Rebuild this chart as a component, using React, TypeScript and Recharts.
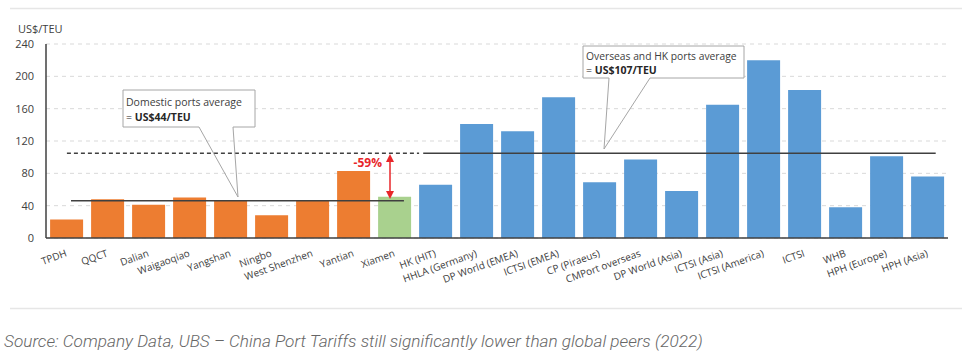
import React from "react";
import { BarChart, Bar, XAxis, YAxis, CartesianGrid, Cell, ReferenceLine } from "recharts";

const ports = ["TPDH","QQCT","Dalian","Waigaoqiao","Yangshan","Ningbo","West Shenzhen","Yantian","Xiamen","HK (HIT)","HHLA (Germany)","DP World (EMEA)","ICTSI (EMEA)","CP (Piraeus)","CMPort overseas","DP World (Asia)","ICTSI (Asia)","ICTSI (America)","ICTSI","WHB","HPH (Europe)","HPH (Asia)"];
const tariffs = [23,48,41,50,46,28,46,83,51,66,141,132,174,69,97,58,165,220,183,38,101,76];
const groups = ["dom","dom","dom","dom","dom","dom","dom","dom","xm","os","os","os","os","os","os","os","os","os","os","os","os","os"];
const yTicks = [0,40,80,120,160,200,240];
const domesticAvgLine = 46;
const overseasAvgLine = 105;

const colors: Record<string,string> = { dom: "#ED7D31", xm: "#A9D18E", os: "#5B9BD5" };
const data = ports.map((name, i) => ({ name, value: tariffs[i], group: groups[i], slot: i + 0.5 }));

const FONT = "'Open Sans', 'Liberation Sans', sans-serif";

const XTick = (props: any) => {
  const { x, y, payload } = props;
  return (
    <g transform={`translate(${x + 1},${y + 10}) rotate(-20)`}>
      <text x={0} y={0} textAnchor="end" fontSize={10} fill="#404040" fontFamily={FONT}>{payload.value}</text>
    </g>
  );
};

export default function App() {
  return (
    <div style={{ position: "absolute", left: 0, top: 0, width: 970, height: 352, background: "#fff", fontFamily: FONT }}>
      <BarChart width={970} height={352} data={data} margin={{ top: 44, right: 22, bottom: 14, left: 0 }} barCategoryGap="10%">
        <CartesianGrid vertical={false} stroke="#d9d9d9" strokeDasharray="4 4" />
        <XAxis dataKey="name" interval={0} height={100} tickLine={false} axisLine={{ stroke: "#404040", strokeWidth: 1.5 }} tick={<XTick />} />
        <XAxis xAxisId="pos" dataKey="slot" type="number" domain={[0, 22]} ticks={[0, 22]} hide allowDataOverflow />
        <YAxis domain={[0, 240]} ticks={yTicks} width={46} tickLine={false} tickMargin={6} axisLine={{ stroke: "#404040", strokeWidth: 1.5 }} tick={{ fontSize: 11, fill: "#404040", fontFamily: FONT }} />
        <Bar dataKey="value" isAnimationActive={false}>
          {data.map((d, i) => <Cell key={i} fill={colors[d.group]} />)}
        </Bar>
        <ReferenceLine xAxisId="pos" segment={[{ x: 0.61, y: domesticAvgLine }, { x: 8.73, y: domesticAvgLine }]} stroke="#404040" strokeWidth={1.5} />
        <ReferenceLine xAxisId="pos" segment={[{ x: 0.51, y: overseasAvgLine }, { x: 9.1, y: overseasAvgLine }]} stroke="#404040" strokeWidth={1.5} strokeDasharray="4 3" />
        <ReferenceLine xAxisId="pos" segment={[{ x: 9.2, y: overseasAvgLine }, { x: 21.7, y: overseasAvgLine }]} stroke="#404040" strokeWidth={1.5} />
      </BarChart>
      <svg width={970} height={352} style={{ position: "absolute", left: 0, top: 0, pointerEvents: "none" }}>
        <line x1={10} y1={8.5} x2={962} y2={8.5} stroke="#e6e6e6" strokeWidth={1.5} />
        <line x1={10} y1={308.5} x2={962} y2={308.5} stroke="#e6e6e6" strokeWidth={1.5} />
        <text x={18} y={33} fontSize={11} fill="#404040" fontFamily={FONT}>US$/TEU</text>
        <rect x={123} y={90} width={132} height={37} fill="#fff" />
        <path d="M199,127 H123 V90 H255 V127 H233 L238,197 Z" fill="none" stroke="#a6a6a6" strokeWidth={1} />
        <text x={126} y={106} fontSize={10.5} fill="#404040" fontFamily={FONT}>Domestic ports average</text>
        <text x={126} y={121} fontSize={10.5} fill="#262626" fontFamily={FONT}>= <tspan fontWeight="bold">US$44/TEU</tspan></text>
        <rect x={583} y={46} width={161} height={32} fill="#fff" />
        <path d="M609,78 H583 V46 H744 V78 H650 L604,149 Z" fill="none" stroke="#a6a6a6" strokeWidth={1} />
        <text x={586} y={60} fontSize={10.3} fill="#404040" fontFamily={FONT}>Overseas and HK  ports average</text>
        <text x={586} y={74} fontSize={10.5} fill="#262626" fontFamily={FONT}>= <tspan fontWeight="bold">US$107/TEU</tspan></text>
        <line x1={390} y1={160} x2={390} y2={193} stroke="#e8262a" strokeWidth={1.5} />
        <polygon points="386,162 394,162 390,154" fill="#e8262a" />
        <polygon points="386,191 394,191 390,199" fill="#e8262a" />
        <text x={382} y={167} textAnchor="end" fontSize={12} fontWeight="bold" fill="#e8262a" fontFamily={FONT}>-59%</text>
        <text x={4} y={347} fontSize={17.2} fontStyle="italic" fontWeight={300} fill="#666" fontFamily="Roboto, sans-serif">Source: Company Data, UBS – China Port Tariffs still significantly lower than global peers (2022)</text>
      </svg>
    </div>
  );
}
